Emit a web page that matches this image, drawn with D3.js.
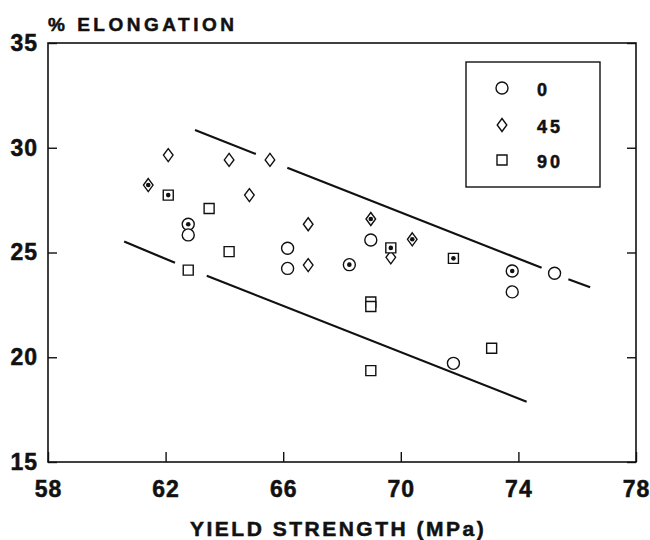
<!DOCTYPE html>
<html>
<head>
<meta charset="utf-8">
<script src="https://d3js.org/d3.v7.min.js"></script>
<style type="text/css">
  body { margin: 0; background: #ffffff; }
  svg { display: block; }
  svg text { stroke: #111; stroke-width: 0.5px; }
</style>
<script>

// % elongation vs yield strength, by orientation (0, 45, 90)
// dot = marker drawn with a filled centre dot
var x0   = [62.77, 62.77, 66.15, 66.15, 68.25, 68.98, 73.79, 73.79, 75.23, 71.79];
var y0   = [26.35, 25.84, 25.20, 24.24, 24.42, 25.60, 24.12, 23.12, 24.01, 19.71];
var dot0 = [1, 0, 0, 0, 1, 0, 1, 0, 0, 0];

var x45   = [61.41, 62.09, 64.16, 65.55, 64.85, 66.85, 66.85, 68.98, 69.66, 70.39];
var y45   = [28.22, 29.65, 29.42, 29.42, 27.74, 26.35, 24.40, 26.60, 24.77, 25.63];
var dot45 = [1, 0, 0, 0, 0, 0, 0, 1, 0, 1];

var x90   = [62.09, 63.48, 64.16, 62.77, 69.66, 71.79, 68.98, 68.98, 73.09, 68.98];
var y90   = [27.74, 27.10, 25.04, 24.16, 25.22, 24.72, 22.64, 22.42, 20.43, 19.36];
var dot90 = [1, 0, 0, 0, 1, 1, 0, 0, 0, 0];

// band lines, broken where they pass a marker: [x1, y1, x2, y2]
var upperLine = [[63.00, 30.85, 65.07, 29.70], [66.14, 29.05, 74.79, 24.27], [75.70, 23.72, 76.44, 23.34]];
var lowerLine = [[60.59, 25.52, 62.32, 24.51], [63.40, 23.89, 74.28, 17.88]];

var xTicks = [58, 62, 66, 70, 74, 78];
var yTicks = [15, 20, 25, 30, 35];
var legendNames = ["0", "45", "90"];

function render()
{
  var dims = {"width": 650, "height": 540};
  var margin = {"top": 43, "right": 14, "bottom": 78, "left": 48};
  var font = "'Liberation Sans', Arial, Helvetica, sans-serif";

  var svg = d3.select("div#chartHere")
    .append("svg")
      .attr("width", dims.width)
      .attr("height", dims.height);

  var xScale = d3.scaleLinear()
     .domain([58, 78])
     .range([margin.left, dims.width - margin.right]);

  var yScale = d3.scaleLinear()
     .domain([15, 35])
     .range([dims.height - margin.bottom, margin.top]);

  var plotBottom = yScale(15);

  // axes, ticks pointing inward
  var xAxis = d3.axisBottom(xScale)
     .tickValues(xTicks)
     .tickSizeInner(-10).tickSizeOuter(0)
     .tickPadding(19);
  var gx = svg.append("g")
     .attr("transform", "translate(0," + plotBottom + ")")
     .call(xAxis);

  var yAxis = d3.axisLeft(yScale)
     .tickValues(yTicks)
     .tickSizeInner(-9).tickSizeOuter(0)
     .tickPadding(10);
  var gy = svg.append("g")
     .attr("transform", "translate(" + margin.left + ",0)")
     .call(yAxis);

  var yAxisR = d3.axisRight(yScale)
     .tickValues(yTicks)
     .tickSizeInner(-9).tickSizeOuter(0)
     .tickFormat("");
  var gr = svg.append("g")
     .attr("transform", "translate(" + xScale(78) + ",0)")
     .call(yAxisR);

  [gx, gy, gr].forEach(function (g) {
    g.select(".domain").remove();
    g.selectAll(".tick line").attr("stroke", "#111").attr("stroke-width", 1.4);
    g.selectAll("text")
      .attr("font-family", font)
      .attr("font-weight", "bold")
      .attr("font-size", 23)
      .attr("letter-spacing", 1)
      .attr("fill", "#111");
  });

  // frame
  svg.append("rect")
     .attr("x", xScale(58))
     .attr("y", yScale(35))
     .attr("width", xScale(78) - xScale(58))
     .attr("height", yScale(15) - yScale(35))
     .attr("fill", "none")
     .attr("stroke", "#111")
     .attr("stroke-width", 1.6);

  // titles
  svg.append("text")
     .attr("x", 48).attr("y", 31)
     .attr("font-family", font).attr("font-weight", "bold")
     .attr("font-size", 19).attr("letter-spacing", 3.5)
     .attr("fill", "#111")
     .text("% ELONGATION");

  svg.append("text")
     .attr("x", 190).attr("y", 536)
     .attr("font-family", font).attr("font-weight", "bold")
     .attr("font-size", 21).attr("letter-spacing", 2.5)
     .attr("fill", "#111")
     .text("YIELD STRENGTH (MPa)");

  // band lines
  svg.selectAll("line.band")
     .data(upperLine.concat(lowerLine))
     .enter().append("line")
     .attr("class", "band")
     .attr("x1", function (d) { return xScale(d[0]); })
     .attr("y1", function (d) { return yScale(d[1]); })
     .attr("x2", function (d) { return xScale(d[2]); })
     .attr("y2", function (d) { return yScale(d[3]); })
     .attr("stroke", "#111")
     .attr("stroke-width", 2.2);

  // marker shapes
  var circlePath = function (cx, cy) {
    return "M" + (cx + 6) + "," + cy + "A6,6 0 1,1 " + (cx - 6) + "," + cy + "A6,6 0 1,1 " + (cx + 6) + "," + cy + "Z";
  };
  var diamondPath = function (cx, cy) {
    return "M" + cx + "," + (cy - 6.5) + "L" + (cx + 4.8) + "," + cy + "L" + cx + "," + (cy + 6.5) + "L" + (cx - 4.8) + "," + cy + "Z";
  };
  var squarePath = function (cx, cy) {
    return "M" + (cx - 5) + "," + (cy - 5) + "h10v10h-10Z";
  };

  function drawSeries(xs, ys, dots, shape, cls)
  {
    var pts = xs.map(function (x, i) { return {x: x, y: ys[i], dot: dots[i]}; });

    svg.selectAll("path." + cls)
       .data(pts).enter().append("path")
       .attr("class", cls)
       .attr("d", function (d) { return shape(xScale(d.x), yScale(d.y)); })
       .attr("fill", "#fff")
       .attr("stroke", "#111")
       .attr("stroke-width", 1.4);

    svg.selectAll("circle." + cls + "dot")
       .data(pts.filter(function (d) { return d.dot; })).enter().append("circle")
       .attr("class", cls + "dot")
       .attr("cx", function (d) { return xScale(d.x); })
       .attr("cy", function (d) { return yScale(d.y); })
       .attr("r", 2.3)
       .attr("fill", "#111");
  }

  drawSeries(x0, y0, dot0, circlePath, "s0");
  drawSeries(x45, y45, dot45, diamondPath, "s45");
  drawSeries(x90, y90, dot90, squarePath, "s90");

  // legend
  var legend = svg.append("g");
  legend.append("rect")
     .attr("x", 466).attr("y", 62)
     .attr("width", 134).attr("height", 125)
     .attr("fill", "#fff")
     .attr("stroke", "#111")
     .attr("stroke-width", 1.4);

  var shapes = [circlePath, diamondPath, squarePath];
  var legendY = [88, 125, 160];
  legendNames.forEach(function (name, i) {
    legend.append("path")
       .attr("d", shapes[i](502, legendY[i]))
       .attr("fill", "#fff")
       .attr("stroke", "#111")
       .attr("stroke-width", 1.4);
    legend.append("text")
       .attr("x", 537).attr("y", legendY[i] + 8)
       .attr("font-family", font).attr("font-weight", "bold")
       .attr("font-size", 18).attr("letter-spacing", 3)
       .attr("fill", "#111")
       .text(name);
  });
}

</script>
</head>
<body onload="render()">
<div id="chartHere"></div>
</body>
</html>
